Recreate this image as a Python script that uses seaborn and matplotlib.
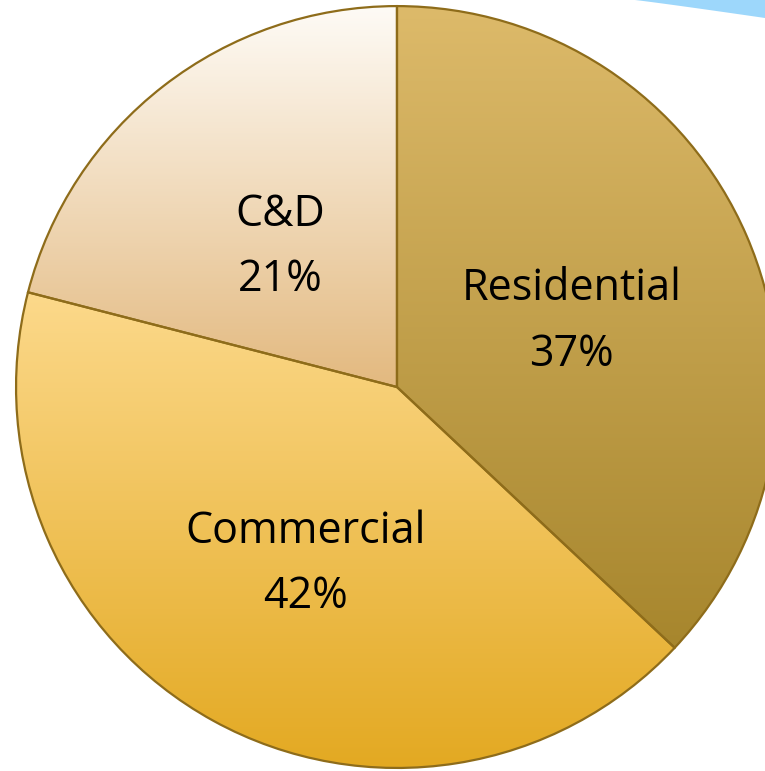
import numpy as np
import matplotlib
matplotlib.use("Agg")
import matplotlib.pyplot as plt
import seaborn as sns
from matplotlib.colors import LinearSegmentedColormap
from matplotlib.patches import Polygon

sources = ["Residential", "Commercial", "C&D"]
shares = [37, 42, 21]

# gradient (top -> bottom) for each wedge
top_colors = ["#ddba6a", "#fcd98b", "#fefbf6"]
bottom_colors = ["#a7862d", "#e3a922", "#e3b97f"]

sns.set_style("white")
plt.rcParams["font.family"] = ["Open Sans", "DejaVu Sans"]

fig = plt.figure(figsize=(7.65, 7.71), dpi=100)
ax = fig.add_axes([0, 0, 1, 1])

wedges, _ = ax.pie(shares, startangle=90, counterclock=False, radius=1,
                   wedgeprops=dict(edgecolor="#8e6c1a", linewidth=1.6))

grad = np.linspace(0, 1, 256).reshape(-1, 1)
for w, c0, c1, name, pct in zip(wedges, top_colors, bottom_colors, sources, shares):
    w.set_facecolor("none")
    w.set_zorder(3)
    ext = w.get_path().get_extents()
    cmap = LinearSegmentedColormap.from_list(name, [c0, c1])
    im = ax.imshow(grad, cmap=cmap, aspect="auto", origin="upper",
                   extent=(ext.x0, ext.x1, ext.y0, ext.y1), zorder=2)
    im.set_clip_path(w)
    mid = np.deg2rad((w.theta1 + w.theta2) / 2)
    ax.annotate(f"{name}\n{pct}%", (0.5 * np.cos(mid), 0.5 * np.sin(mid)),
                xytext=(0, -7.5), textcoords="offset points",
                ha="center", va="center", fontsize=31, linespacing=1.62,
                color="black", zorder=4)

ax.axis("off")
ax.set_xlim(-1.042, 0.966)
ax.set_ylim(-1.008, 1.016)
ax.set_aspect("equal")

# light blue swoosh in the top right corner
xs = np.linspace(635, 765, 30)
ys = 18 * ((xs - 635) / 130) ** 1.05
pts = [(x / 765, 1 - y / 771) for x, y in zip(xs, ys)] + [(1, 1)]
fig.patches.append(Polygon(pts, closed=True, transform=fig.transFigure,
                           facecolor="#9dd7fb", edgecolor="none"))

fig.savefig("out.png", dpi=100)
